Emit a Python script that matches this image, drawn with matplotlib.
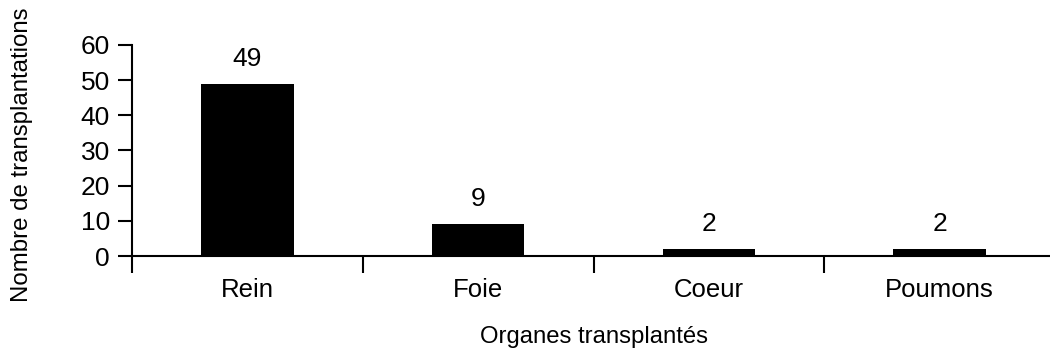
import matplotlib
matplotlib.use("Agg")
import matplotlib.pyplot as plt
import numpy as np

# data
organes = ["Rein", "Foie", "Coeur", "Poumons"]
transplantations = [49, 9, 2, 2]
yticks = [0, 10, 20, 30, 40, 50, 60]

plt.rcParams['font.family'] = ['Liberation Sans', 'DejaVu Sans']

fig = plt.figure(figsize=(10.5, 3.53), dpi=100)
ax = fig.add_axes([132 / 1050, 97 / 353, (1055 - 132) / 1050, 211 / 353])

x = np.arange(len(organes))
ax.bar(x, transplantations, width=0.4, color="black")
for xi, v in zip(x, transplantations):
    ax.annotate(str(v), (xi, v), xytext=(0, 18), textcoords="offset points",
                ha="center", va="center", fontsize=19)

ax.set_xlim(-0.5, len(organes) - 0.5)
ax.set_ylim(0, 60)
ax.set_yticks(yticks)
ax.tick_params(axis="y", length=10, width=1.5, pad=6, labelsize=19)

# category boundaries carry the tick marks, labels sit at centres
ax.set_xticks(np.arange(len(organes) + 1) - 0.5)
ax.set_xticklabels([])
ax.set_xticks(x, minor=True)
ax.set_xticklabels(organes, minor=True, fontsize=18.5)
ax.tick_params(axis="x", which="major", length=12, width=1.5)
ax.tick_params(axis="x", which="minor", length=0, pad=16)

for s in ["top", "right"]:
    ax.spines[s].set_visible(False)
ax.spines["left"].set_linewidth(1.5)
ax.spines["bottom"].set_linewidth(1.5)

ax.set_ylabel("Nombre de transplantations", fontsize=17.3, va="center")
ax.yaxis.set_label_coords(-0.119, 0.48)
ax.set_xlabel("Organes transplantés", fontsize=17.2, va="center")
ax.xaxis.set_label_coords(0.5, -0.384)

fig.savefig("out.png", dpi=100)
